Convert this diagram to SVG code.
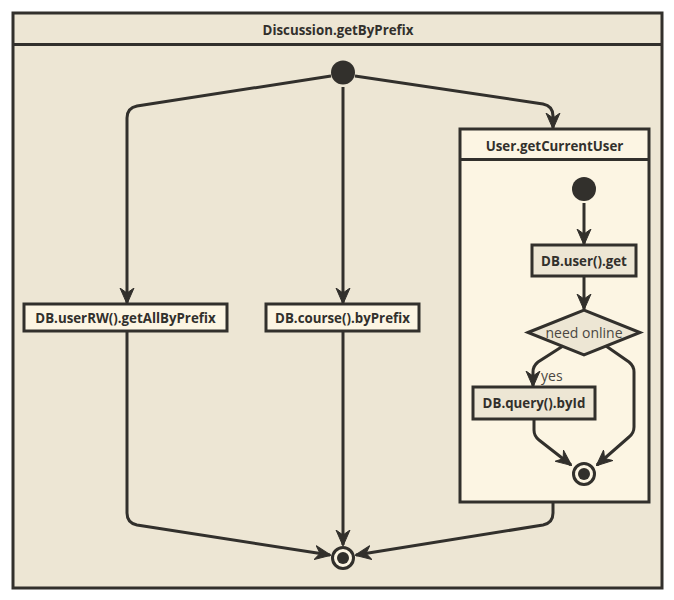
<svg xmlns="http://www.w3.org/2000/svg" width="674" height="600" viewBox="0 0 674 600">
<defs>
<marker id="arr" viewBox="0 0 16 16" refX="15" refY="8" markerWidth="16" markerHeight="16" markerUnits="userSpaceOnUse" orient="auto">
<path d="M0,1 L16,8 L0,15 L5,8 z" fill="#32302c" stroke="#32302c" stroke-width="1" stroke-linejoin="round"/>
</marker>
<style>
.frame{stroke:#32302c;stroke-width:3}
.box{stroke:#32302c;stroke-width:3}
.lbl{font-family:"Open Sans","Liberation Sans",sans-serif;font-weight:bold;font-size:13.3px;fill:#32302c;text-anchor:middle}
.plain{font-family:"Open Sans","Liberation Sans",sans-serif;font-size:14px;fill:#4a4742}
.edge{fill:none;stroke:#32302c;stroke-width:3;marker-end:url(#arr)}
.dot{fill:#32302c}
</style>
</defs>
<rect width="674" height="600" fill="#ffffff"/>
<g id="Discussion_getByPrefix">
<rect class="frame" x="13" y="13" width="649" height="575" fill="#ede6d4"/>
<line class="frame" x1="13" y1="44.5" x2="662" y2="44.5"/>
<text class="lbl" x="338" y="34.5">Discussion.getByPrefix</text>
</g>
<g id="start"><circle class="dot" cx="343" cy="72.5" r="12"/></g>
<g id="userRW"><rect class="box" x="24" y="304" width="203" height="27" fill="#fcf5e3"/><text class="lbl" x="125.5" y="322.5">DB.userRW().getAllByPrefix</text></g>
<g id="course"><rect class="box" x="266" y="304" width="153" height="27" fill="#fcf5e3"/><text class="lbl" x="342.5" y="322.5">DB.course().byPrefix</text></g>
<g id="User_getCurrentUser">
<rect class="frame" x="460" y="129" width="189" height="373" fill="#fcf5e3"/>
<line class="frame" x1="460" y1="159.5" x2="649" y2="159.5"/>
<text class="lbl" x="554.5" y="150.5">User.getCurrentUser</text>
</g>
<g id="inner_start"><circle class="dot" cx="584" cy="189" r="12"/></g>
<g id="user_get"><rect class="box" x="532" y="245" width="104" height="31" fill="#ede6d4"/><text class="lbl" x="584" y="265.5">DB.user().get</text></g>
<g id="need_online"><polygon class="box" points="528,332.5 584,310 640,332.5 584,355" fill="#ede6d4"/><text class="plain" x="584" y="337.5" text-anchor="middle">need online</text></g>
<g id="query_byId"><rect class="box" x="473" y="387" width="122" height="32" fill="#ede6d4"/><text class="lbl" x="534" y="408">DB.query().byId</text></g>
<g id="inner_final"><circle cx="584" cy="474" r="10.5" fill="#fcf5e3" stroke="#32302c" stroke-width="3"/><circle class="dot" cx="584" cy="474" r="6"/></g>
<g id="final"><circle cx="343" cy="558" r="10.5" fill="#fcf5e3" stroke="#32302c" stroke-width="3"/><circle class="dot" cx="343" cy="558" r="6"/></g>
<g id="connectors">
<path class="edge" d="M331,76 L137,106 Q127,108 127,118 L127,303"/>
<path class="edge" d="M343,87 L343,303"/>
<path class="edge" d="M355,76 L543,104 Q553,106 553,116 L553,128"/>
<path class="edge" d="M584,203 L584,244"/>
<path class="edge" d="M584,276 L584,309"/>
<path class="edge" d="M563,346 L538,362 Q533,366 533,372 L533,386"/>
<text class="plain" x="541" y="381">yes</text>
<path class="edge" d="M534,419 L534,430 Q534,436 539,440 L571,465"/>
<path class="edge" d="M606,346 L629,362 Q634,366 634,372 L634,427 Q634,433 629,437 L597,465"/>
<path class="edge" d="M127,331 L127,513 Q127,523 137,525 L330,555"/>
<path class="edge" d="M343,331 L343,545"/>
<path class="edge" d="M553,502 L553,513 Q553,523 543,525 L356,555"/>
</g>
</svg>
